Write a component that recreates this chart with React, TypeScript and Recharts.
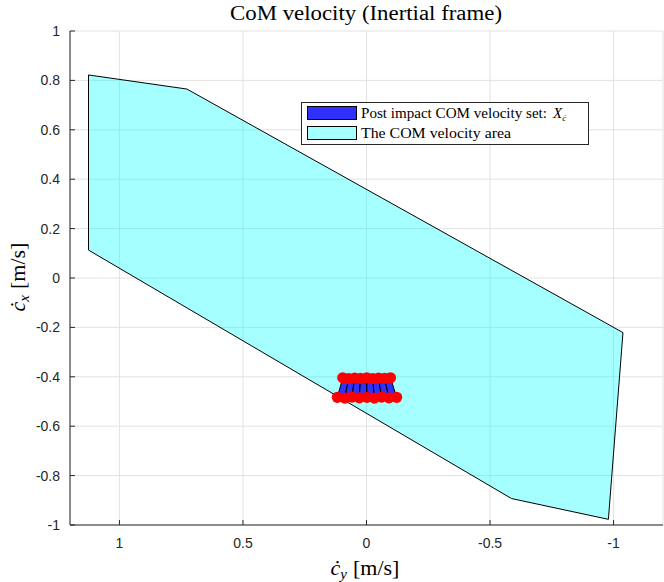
import { ScatterChart, Scatter, XAxis, YAxis, CartesianGrid, Curve } from "recharts";

// COM velocity area (hull vertices, clockwise)
const areaX = [1.125, 0.727, -1.038, -0.979, -0.587, 1.125];
const areaY = [0.822, 0.765, -0.221, -0.977, -0.893, 0.113];

// post impact COM velocity set: upper and lower rows of vertices
const topX = [0.096, 0.072, 0.048, 0.024, -0.001, -0.025, -0.049, -0.073, -0.097];
const topY = [-0.404, -0.407, -0.405, -0.406, -0.404, -0.407, -0.405, -0.406, -0.404];
const bottomX = [0.118, 0.088, 0.059, 0.029, -0.002, -0.032, -0.061, -0.091, -0.122];
const bottomY = [-0.483, -0.486, -0.482, -0.485, -0.483, -0.486, -0.482, -0.485, -0.483];

const xTicks = [-1, -0.5, 0, 0.5, 1];
const yTicks = [-1, -0.8, -0.6, -0.4, -0.2, 0, 0.2, 0.4, 0.6, 0.8, 1];

const areaData = areaX.map((x, i) => ({ x, y: areaY[i] }));
const quads = topX.slice(0, -1).map((_, i) => [
    { x: topX[i], y: topY[i] },
    { x: topX[i + 1], y: topY[i + 1] },
    { x: bottomX[i + 1], y: bottomY[i + 1] },
    { x: bottomX[i], y: bottomY[i] },
]);
const vertexData = [
    ...topX.map((x, i) => ({ x, y: topY[i] })),
    ...bottomX.map((x, i) => ({ x, y: bottomY[i] })),
];

const AXIS = "#262626";
const SANS = "'Liberation Sans', Arial, sans-serif";
const SERIF = "'Liberation Serif', 'Times New Roman', serif";

const XTick = (props: any) => {
    const { x, y, payload } = props;
    return (
        <g>
            <line x1={x} x2={x} y1={y} y2={y - 5} stroke={AXIS} />
            <text x={x} y={y + 23} textAnchor="middle" fontSize={14} fill={AXIS} fontFamily={SANS}>
                {payload.value}
            </text>
        </g>
    );
};

const YTick = (props: any) => {
    const { x, y, payload } = props;
    return (
        <g>
            <line x1={x} x2={x + 5} y1={y} y2={y} stroke={AXIS} />
            <text x={x - 10} y={y + 5} textAnchor="end" fontSize={14} fill={AXIS} fontFamily={SANS}>
                {payload.value}
            </text>
        </g>
    );
};

const noDot = () => <g />;
const redDot = (p: any) => <circle cx={p.cx} cy={p.cy} r={5.6} fill="#ff0000" />;
const closedShape = (style: any) => (p: any) => (
    <Curve points={p.points} type="linearClosed" {...style} />
);

const App = () => {
    return (
        <div style={{ position: "absolute", left: 0, top: 0, width: 664, height: 582 }}>
            <ScatterChart width={664} height={582} margin={{ top: 31, right: 1, bottom: 0, left: 0 }}>
                <CartesianGrid stroke="#e2e2e2" strokeWidth={1} />
                <XAxis
                    type="number"
                    dataKey="x"
                    domain={[-1.2, 1.2]}
                    ticks={xTicks}
                    reversed
                    allowDataOverflow
                    height={57}
                    tickSize={0}
                    tickMargin={0}
                    tick={<XTick />}
                    axisLine={{ stroke: AXIS }}
                    tickLine={false}
                />
                <YAxis
                    type="number"
                    dataKey="y"
                    domain={[-1, 1]}
                    ticks={yTicks}
                    allowDataOverflow
                    width={70}
                    tickSize={0}
                    tickMargin={0}
                    tick={<YTick />}
                    axisLine={{ stroke: AXIS }}
                    tickLine={false}
                />
                <Scatter
                    data={areaData}
                    isAnimationActive={false}
                    shape={noDot}
                    line={closedShape({ fill: "#00ffff", fillOpacity: 0.35, stroke: "#000", strokeWidth: 1 })}
                    lineType="joint"
                />
                {quads.map((q, i) => (
                    <Scatter
                        key={i}
                        data={q}
                        isAnimationActive={false}
                        shape={noDot}
                        line={closedShape({ fill: "#3030ff", stroke: "#000", strokeWidth: 1 })}
                        lineType="joint"
                    />
                ))}
                <Scatter data={vertexData} isAnimationActive={false} shape={redDot} />
            </ScatterChart>
            <svg width={664} height={582} style={{ position: "absolute", left: 0, top: 0, pointerEvents: "none" }}>
                <text
                    x={366}
                    y={20}
                    textAnchor="middle"
                    fontSize={20}
                    fontFamily={SERIF}
                    fill="#000"
                    textLength={272}
                    lengthAdjust="spacingAndGlyphs"
                >
                    CoM velocity (Inertial frame)
                </text>
                <text x={365} y={575} textAnchor="middle" fontSize={22} fontFamily={SERIF} fill="#000">
                    <tspan fontStyle="italic">ċ</tspan>
                    <tspan fontStyle="italic" fontSize={15} dy={4}>y</tspan>
                    <tspan dy={-4} dx={6}>[m/s]</tspan>
                </text>
                <text
                    x={0}
                    y={0}
                    transform="translate(25,277) rotate(-90)"
                    textAnchor="middle"
                    fontSize={22}
                    fontFamily={SERIF}
                    fill="#000"
                >
                    <tspan fontStyle="italic">ċ</tspan>
                    <tspan fontStyle="italic" fontSize={15} dy={4}>x</tspan>
                    <tspan dy={-4} dx={6}>[m/s]</tspan>
                </text>
                <rect x={301.5} y={102.5} width={287} height={42} fill="#fff" stroke={AXIS} />
                <rect x={307.5} y={106.5} width={49} height={13} fill="#3030ff" stroke="#000" />
                <rect x={307.5} y={126.5} width={49} height={13} fill="#a6ffff" stroke="#000" />
                <text
                    x={361}
                    y={118}
                    fontSize={14}
                    fontFamily={SERIF}
                    fill="#000"
                    textLength={186}
                    lengthAdjust="spacingAndGlyphs"
                >
                    Post impact COM velocity set:
                </text>
                <text x={553} y={118} fontSize={15} fontFamily={SERIF} fill="#000">
                    <tspan fontStyle="italic">X</tspan>
                    <tspan fontStyle="italic" fontSize={9} dy={3}>ċ</tspan>
                </text>
                <text
                    x={361}
                    y={138}
                    fontSize={14}
                    fontFamily={SERIF}
                    fill="#000"
                    textLength={150}
                    lengthAdjust="spacingAndGlyphs"
                >
                    The COM velocity area
                </text>
            </svg>
        </div>
    );
};

export default App;
